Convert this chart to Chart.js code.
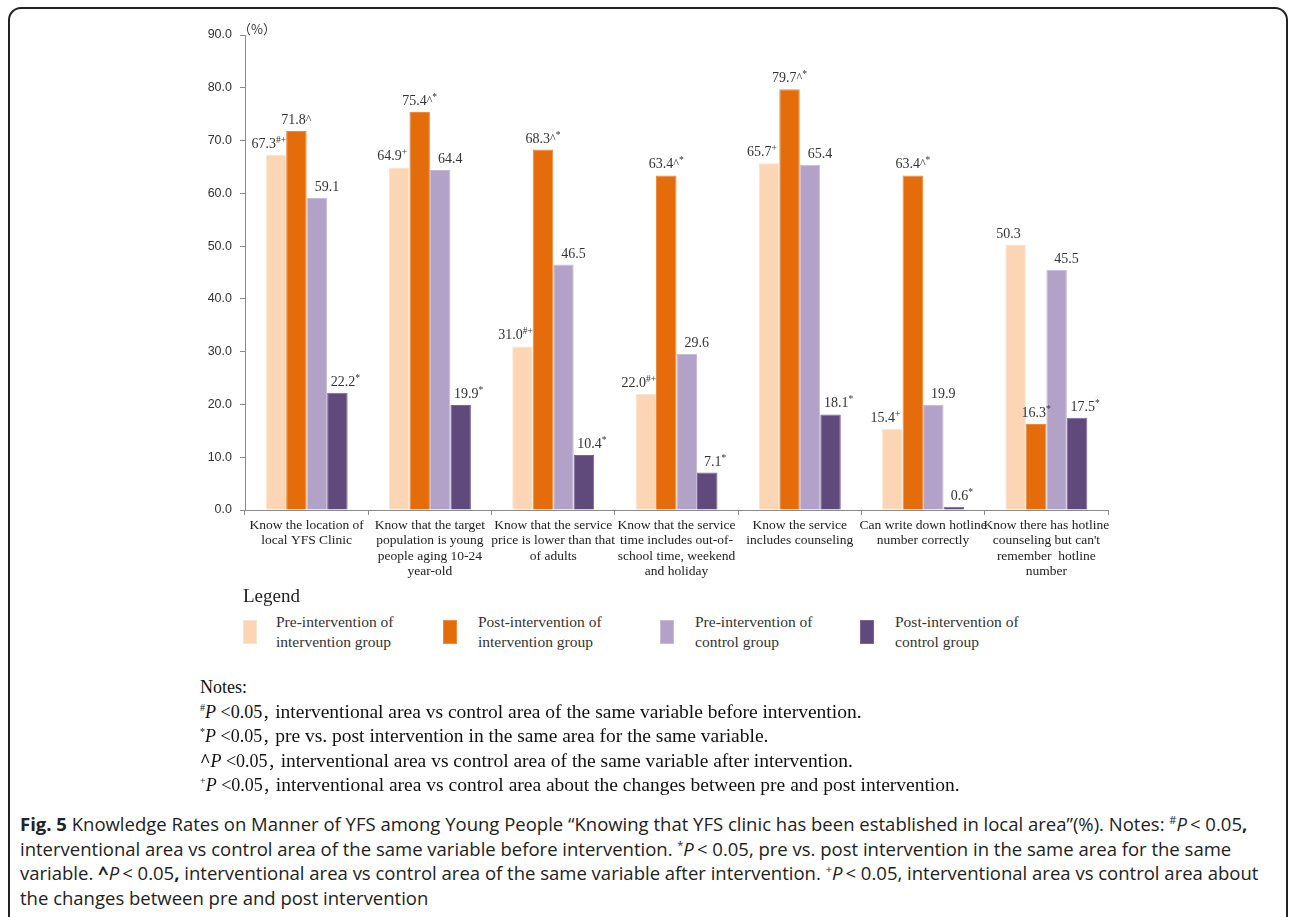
<!DOCTYPE html>
<html>
<head>
<meta charset="utf-8">
<script src="https://cdn.jsdelivr.net/npm/chart.js@4.4.1/dist/chart.umd.min.js"></script>
<style>
    html, body { margin: 0; padding: 0; background: #fff; }
    body { width: 1295px; height: 917px; position: relative; overflow: hidden; }
    #frame {
        position: absolute; left: 8px; top: 7px; width: 1280px; height: 960px;
        border: 2px solid #222; border-radius: 13px; box-sizing: border-box;
    }
    #chart-box { position: absolute; left: 0; top: 0; width: 1295px; height: 590px; }
    #legend-title {
        position: absolute; left: 243px; top: 585px;
        font: 19px "Liberation Serif", serif; color: #222;
    }
    .legend-item { position: absolute; top: 612px; }
    .legend-swatch { position: absolute; left: 0; top: 8px; width: 14px; height: 24px; }
    .legend-text {
        position: absolute; top: 0; white-space: nowrap;
        font: 15.5px/20px "Liberation Serif", serif; color: #333;
    }
    #notes {
        position: absolute; left: 200px; top: 675px; white-space: nowrap;
        font: 18px/24.5px "Liberation Serif", serif; color: #111;
    }
    #notes sup { font-size: 10px; vertical-align: 7px; line-height: 0; }
    #notes .fw {
        display: inline-block; width: 13px; overflow: hidden; vertical-align: bottom;
        font-family: "Noto Sans CJK SC", sans-serif; font-size: 16px;
    }
    #notes .tx { font-size: 19.5px; }
    #caption {
        position: absolute; left: 20px; top: 812px; white-space: nowrap;
        font: 18.5px/24.7px "Open Sans", sans-serif; color: #222;
    }
    #caption sup { font-size: 11px; vertical-align: 7px; line-height: 0; }
</style>
</head>
<body>
<div id="frame"></div>
<div id="chart-box"><canvas id="fig-canvas"></canvas></div>
<div id="legend-title">Legend</div>
<div id="legend"></div>
<div id="notes">
    Notes:<br>
    <sup>#</sup><i>P</i> &lt;0.05<span class="fw">，</span><span class="tx">interventional area vs control area of the same variable before intervention.</span><br>
    <sup>*</sup><i>P</i> &lt;0.05<span class="fw">，</span><span class="tx">pre vs. post intervention in the same area for the same variable.</span><br>
    <b>^</b><i>P</i> &lt;0.05<span class="fw">，</span><span class="tx">interventional area vs control area of the same variable after intervention.</span><br>
    <sup>+</sup><i>P</i> &lt;0.05<span class="fw">，</span><span class="tx">interventional area vs control area about the changes between pre and post intervention.</span>
</div>
<div id="caption">
    <b>Fig. 5</b> Knowledge Rates on Manner of YFS among Young People “Knowing that YFS clinic has been established in local area”(%). Notes: <sup>#</sup><i>P</i>&thinsp;&lt; 0.05<b>,</b><br>
    interventional area vs control area of the same variable before intervention. <sup>*</sup><i>P</i>&thinsp;&lt; 0.05, pre vs. post intervention in the same area for the same<br>
    variable. <b>^</b><i>P</i>&thinsp;&lt; 0.05<b>,</b> interventional area vs control area of the same variable after intervention. <sup>+</sup><i>P</i>&thinsp;&lt; 0.05, interventional area vs control area about<br>
    the changes between pre and post intervention
</div>
<script>
"use strict";

const categories = [
    ["Know the location of", "local YFS Clinic"],
    ["Know that the target", "population is young", "people aging 10-24", "year-old"],
    ["Know that the service", "price is lower than that", "of adults"],
    ["Know that the service", "time includes out-of-", "school time, weekend", "and holiday"],
    ["Know the service", "includes counseling"],
    ["Can write down hotline", "number correctly"],
    ["Know there has hotline", "counseling but can't", "remember  hotline", "number"],
];

const seriesNames = [
    ["Pre-intervention of", "intervention group"],
    ["Post-intervention of", "intervention group"],
    ["Pre-intervention of", "control group"],
    ["Post-intervention of", "control group"],
];

const preIntervention = [67.3, 64.9, 31.0, 22.0, 65.7, 15.4, 50.3];
const postIntervention = [71.8, 75.4, 68.3, 63.4, 79.7, 63.4, 16.3];
const preControl = [59.1, 64.4, 46.5, 29.6, 65.4, 19.9, 45.5];
const postControl = [22.2, 19.9, 10.4, 7.1, 18.1, 0.6, 17.5];

// significance marks printed after each value
const preInterventionMarks = ["#+", "+", "#+", "#+", "+", "+", ""];
const postInterventionMarks = ["^", "^*", "^*", "^*", "^*", "^*", "*"];
const preControlMarks = ["", "", "", "", "", "", ""];
const postControlMarks = ["*", "*", "*", "*", "*", "*", "*"];

const yTicks = [0, 10, 20, 30, 40, 50, 60, 70, 80, 90];

const SERIF = '"Liberation Serif", "Times New Roman", serif';

const barColors = ["#FCD5B5", "#E46C0A", "#B3A2C7", "#604A7B"];
const barEdges = ["#FDE3CE", "#F08A3A", "#C8BBD8", "#7A6594"];
const labelShift = [-7, 0, 10, 8];

const datasets = [
    { values: preIntervention, marks: preInterventionMarks },
    { values: postIntervention, marks: postInterventionMarks },
    { values: preControl, marks: preControlMarks },
    { values: postControl, marks: postControlMarks },
].map((s, i) => ({
    label: seriesNames[i].join(" "),
    data: s.values,
    marks: s.marks,
    backgroundColor: barColors[i],
    borderColor: barEdges[i],
    borderWidth: 1,
    labelShift: labelShift[i],
    categoryPercentage: 0.665,
    barPercentage: 1.0,
}));

// value labels with raised significance marks
const valueLabels = {
    id: "valueLabels",
    afterDatasetsDraw(chart) {
        const ctx = chart.ctx;
        ctx.save();
        ctx.fillStyle = "#333";
        ctx.textBaseline = "alphabetic";
        chart.data.datasets.forEach((ds, di) => {
            const meta = chart.getDatasetMeta(di);
            meta.data.forEach((bar, i) => {
                const main = ds.data[i].toFixed(1);
                const marks = ds.marks[i] || "";
                ctx.font = "14px " + SERIF;
                let w = ctx.measureText(main).width;
                const parts = [];
                for (const ch of marks) {
                    const caret = ch === "^";
                    ctx.font = (caret ? "12px " : "9.5px ") + SERIF;
                    const cw = ctx.measureText(ch).width;
                    parts.push({ ch, caret, cw });
                    w += cw;
                }
                let x = bar.x + ds.labelShift - w / 2;
                const base = bar.y - 7;
                ctx.textAlign = "left";
                ctx.font = "14px " + SERIF;
                ctx.fillText(main, x, base);
                x += ctx.measureText(main).width;
                parts.forEach(p => {
                    ctx.font = (p.caret ? "12px " : "9.5px ") + SERIF;
                    ctx.fillText(p.ch, x, p.caret ? base - 1 : base - 5);
                    x += p.cw;
                });
            });
        });
        // unit mark beside the top of the value axis
        const y = chart.scales.y;
        ctx.font = '13px "Noto Sans CJK SC", sans-serif';
        ctx.fillStyle = "#333";
        ctx.textAlign = "left";
        ctx.fillText("（%）", y.right - 7, y.top - 1);
        ctx.restore();
    },
};

function buildLegend() {
    const lefts = [243, 443, 660, 860];
    const holder = document.getElementById("legend");
    seriesNames.forEach((lines, i) => {
        const item = document.createElement("div");
        item.className = "legend-item";
        item.style.left = lefts[i] + "px";
        const sw = document.createElement("div");
        sw.className = "legend-swatch";
        sw.style.background = barColors[i];
        sw.style.border = "1px solid " + barEdges[i];
        sw.style.boxSizing = "border-box";
        const tx = document.createElement("div");
        tx.className = "legend-text";
        tx.style.left = (i === 0 ? 33 : 35) + "px";
        tx.innerHTML = lines.join("<br>");
        item.appendChild(sw);
        item.appendChild(tx);
        holder.appendChild(item);
    });
}

function createChart() {
    const canvas = document.getElementById("fig-canvas");
    const context = canvas.getContext("2d");
    if (context === null) {
        console.error("failed to create chart canvas context");
        return;
    }
    new Chart(context, {
        type: "bar",
        data: { labels: categories, datasets: datasets },
        plugins: [valueLabels],
        options: {
            responsive: true,
            maintainAspectRatio: false,
            animation: false,
            layout: { padding: { left: 0, top: 35, right: 187, bottom: 0 } },
            plugins: {
                legend: { display: false },
                tooltip: { enabled: false },
            },
            scales: {
                x: {
                    type: "category",
                    offset: true,
                    grid: {
                        offset: true,
                        drawOnChartArea: false,
                        tickLength: 5,
                        color: "#8a8a8a",
                    },
                    border: { color: "#8a8a8a", width: 1 },
                    ticks: {
                        color: "#222",
                        padding: 3,
                        maxRotation: 0,
                        autoSkip: false,
                        font: { family: SERIF, size: 13.5, lineHeight: 1.13 },
                    },
                    afterFit(scale) { scale.height = 80; },
                },
                y: {
                    min: 0,
                    max: 90,
                    afterBuildTicks(scale) {
                        scale.ticks = yTicks.map(v => ({ value: v }));
                    },
                    grid: {
                        drawOnChartArea: false,
                        tickLength: 5,
                        color: "#8a8a8a",
                    },
                    border: { color: "#8a8a8a", width: 1 },
                    ticks: {
                        color: "#333",
                        padding: 8,
                        font: { family: '"Liberation Sans", Arial, sans-serif', size: 12.5 },
                        callback: v => Number(v).toFixed(1),
                    },
                    afterFit(scale) { scale.width = 245; },
                },
            },
        },
    });
}

buildLegend();
createChart();
</script>
</body>
</html>
